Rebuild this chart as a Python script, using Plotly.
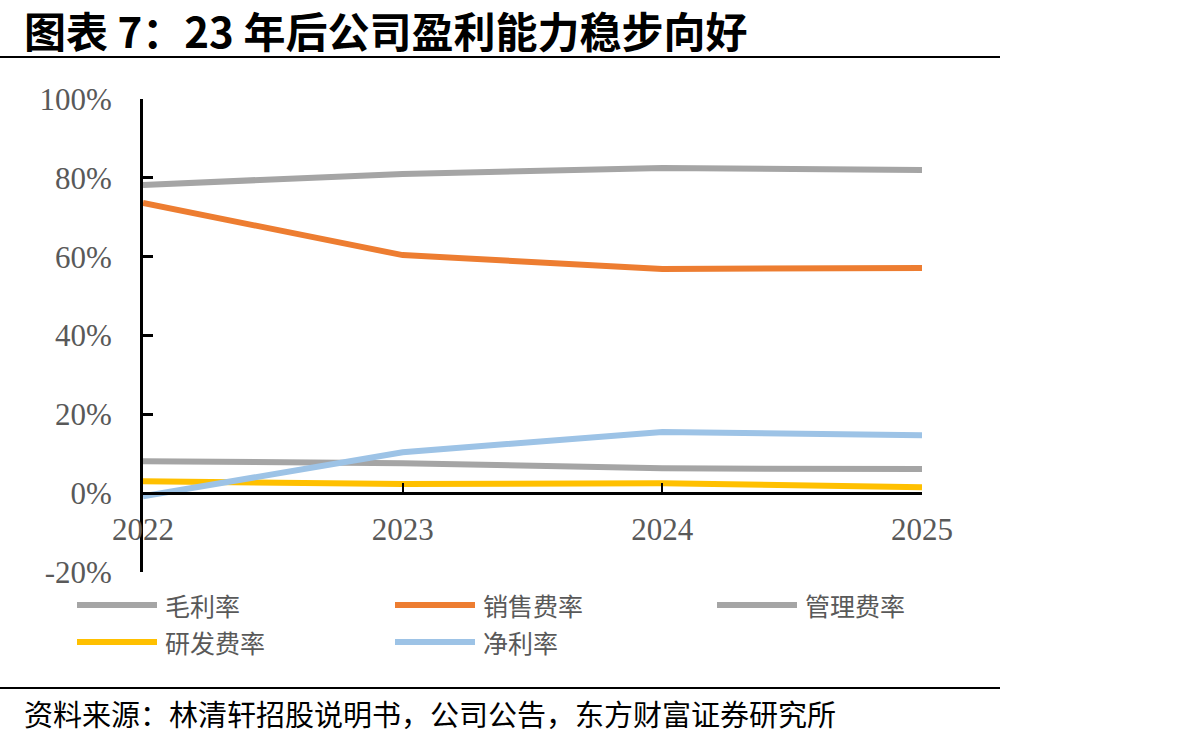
import plotly.graph_objects as go

years = [2022, 2023, 2024, 2025]
gross_margin = [78.2, 81.0, 82.5, 82.0]
selling_rate = [73.6, 60.4, 56.9, 57.1]
admin_rate = [8.1, 7.6, 6.3, 6.1]
rd_rate = [3.0, 2.3, 2.5, 1.5]
net_margin = [-0.8, 10.4, 15.5, 14.7]

series_names = ["毛利率", "销售费率", "管理费率", "研发费率", "净利率"]
series_values = [gross_margin, selling_rate, admin_rate, rd_rate, net_margin]
colors = ["#A5A5A5", "#ED7D31", "#A5A5A5", "#FFC000", "#9DC3E6"]
y_ticks = [-20, 0, 20, 40, 60, 80, 100]
y_tick_labels = ["-20%", "0%", "20%", "40%", "60%", "80%", "100%"]

W, H = 1192, 742
L, R, T, B = 143, 1192 - 922, 99, 742 - 572
PW, PH = W - L - R, H - T - B

def px(x):
    return (x - L) / PW

def py(y):
    return (H - B - y) / PH

fig = go.Figure()
for name, vals, c in zip(series_names, series_values, colors):
    fig.add_trace(go.Scatter(x=years, y=vals, mode="lines", name=name,
                             line=dict(color=c, width=6), showlegend=False))

serif = "Liberation Serif, Times New Roman, serif"
cjk = "Noto Sans CJK SC"

fig.update_layout(
    width=W, height=H,
    margin=dict(l=L, r=R, t=T, b=B, autoexpand=False),
    paper_bgcolor="white", plot_bgcolor="white",
    xaxis=dict(range=[2022, 2025], tickvals=years, ticktext=[str(y) for y in years],
               showgrid=False, zeroline=False, showline=True, linecolor="black", linewidth=3,
               ticks="", anchor="free", position=1/6, ticklabelstandoff=8,
               tickfont=dict(family=serif, size=31, color="#595959")),
    yaxis=dict(range=[-20, 100], tickvals=y_ticks, ticktext=y_tick_labels,
               showgrid=False, zeroline=False, showline=True, linecolor="black", linewidth=3,
               ticks="", ticklabelstandoff=22,
               tickfont=dict(family=serif, size=31, color="#595959")),
    # overlay axes that only draw the inside tick marks
    xaxis2=dict(range=[2022, 2025], tickvals=years, overlaying="x", anchor="free", position=1/6,
                side="bottom", showgrid=False, zeroline=False, showline=False, showticklabels=False,
                ticks="inside", ticklen=10, tickwidth=2, tickcolor="black"),
    yaxis2=dict(range=[-20, 100], tickvals=y_ticks, overlaying="y", anchor="x", side="left",
                showgrid=False, zeroline=False, showline=False, showticklabels=False,
                ticks="inside", ticklen=10, tickwidth=3, tickcolor="black"),
)
# invisible helper trace so the overlay axes are drawn
fig.add_trace(go.Scatter(x=[years[0]], y=[y_ticks[0]], xaxis="x2", yaxis="y2", mode="markers",
                         marker=dict(opacity=0), hoverinfo="skip", showlegend=False))

# Title and rules
fig.add_annotation(text="<b>图表 7：23 年后公司盈利能力稳步向好</b>", xref="paper", yref="paper",
                   x=px(22), y=py(30), xanchor="left", yanchor="middle", showarrow=False,
                   font=dict(family=cjk, size=42, color="black"))
fig.add_shape(type="line", xref="paper", yref="paper", x0=px(0), x1=px(1000), y0=py(57), y1=py(57),
              line=dict(color="black", width=2))
fig.add_shape(type="line", xref="paper", yref="paper", x0=px(0), x1=px(1000), y0=py(688), y1=py(688),
              line=dict(color="black", width=2))
fig.add_annotation(text="资料来源：林清轩招股说明书，公司公告，东方财富证券研究所", xref="paper", yref="paper",
                   x=px(22), y=py(713), xanchor="left", yanchor="middle", showarrow=False,
                   font=dict(family=cjk, size=29, color="black"))

# Legend (manual)
legend_pos = [(77, 605), (395, 605), (717, 605), (77, 642), (395, 642)]
for name, c, (lx, ly) in zip(series_names, colors, legend_pos):
    fig.add_shape(type="line", xref="paper", yref="paper", x0=px(lx), x1=px(lx + 80),
                  y0=py(ly), y1=py(ly), line=dict(color=c, width=6))
    fig.add_annotation(text=name, xref="paper", yref="paper", x=px(lx + 86), y=py(ly),
                       xanchor="left", yanchor="middle", showarrow=False,
                       font=dict(family=cjk, size=25, color="#595959"))

fig.write_html("out.html")
